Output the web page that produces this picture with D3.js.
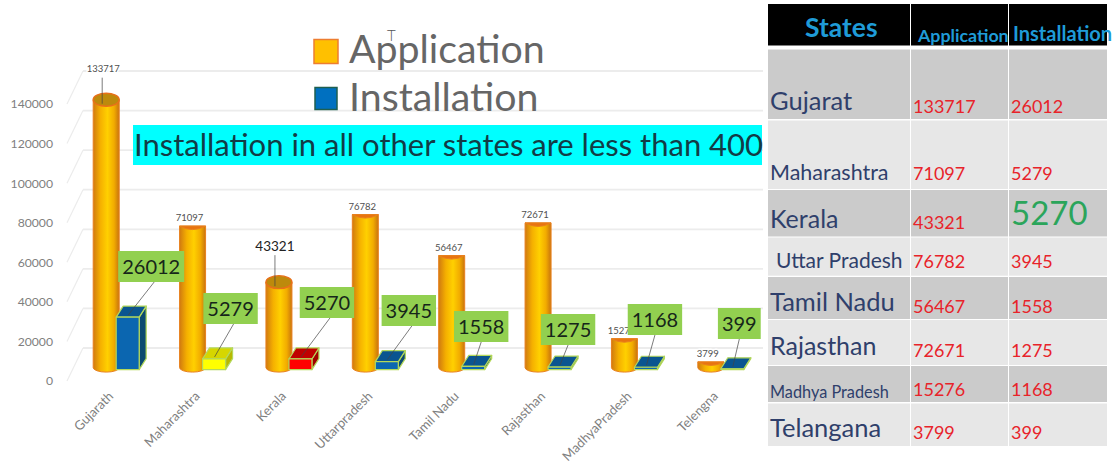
<!DOCTYPE html>
<html>

<head>
	<meta charset='utf-8'>
	<title>States chart</title>
	<script type='text/javascript' src='https://cdn.jsdelivr.net/npm/d3@7'></script>
	<style>
		html, body { margin: 0; padding: 0; background: #fff; }
		svg { display: block; font-family: Lato, 'Noto Sans', sans-serif; }
	</style>
</head>

<body>
	<svg width='1114' height='465'></svg>
	<script type='text/javascript'>

		// data
		const categories = ['Gujarath', 'Maharashtra', 'Kerala', 'Uttarpradesh', 'Tamil Nadu', 'Rajasthan', 'MadhyaPradesh', 'Telengna']
		const tableStates = ['Gujarat', 'Maharashtra', 'Kerala', 'Uttar Pradesh', 'Tamil Nadu', 'Rajasthan', 'Madhya Pradesh', 'Telangana']
		const application = [133717, 71097, 43321, 76782, 56467, 72671, 15276, 3799]
		const installation = [26012, 5279, 5270, 3945, 1558, 1275, 1168, 399]
		const yTicks = [0, 20000, 40000, 60000, 80000, 100000, 120000, 140000]
		const seriesNames = ['Application', 'Installation']
		const tableHeader = ['States', 'Application', 'Installation']
		const note = 'Installation in all other states are less than 400'

		// layout only: hand placed callouts, box colours, table rows
		const fullCaps = ['Gujarath', 'Kerala']
		const calloutDx = [45, 38, 48, 43.5, 29.5, 30, 30.5, 28.5]
		const calloutTop = [251, 293, 287, 295, 311, 314, 304, 308]
		const boxFill = ['#0b66b0', '#ffff00', '#ff0000', '#0b66b0', '#0b66b0', '#0b66b0', '#0b66b0', '#0b66b0']
		const boxTop = ['#0a5590', '#d6d600', '#c00000', '#0a5590', '#0a5590', '#0a5590', '#0a5590', '#0a5590']
		const boxSide = ['#0c4a70', '#b8b800', '#a00000', '#0c4a70', '#0c4a70', '#0c4a70', '#0c4a70', '#0c4a70']
		const rowTop = [49.5, 120.5, 190, 237.5, 277, 320, 366, 403.5]
		const rowBottom = [119, 189, 236.5, 275.7, 319, 365, 402, 446]
		const stateX = [770, 770, 770, 776, 770, 770, 770, 770]
		const stateBase = [110, 180, 228, 268, 311, 355, 398, 437]
		const stateSize = [25.5, 21.5, 25, 21, 25.5, 25, 16.3, 25.5]
		const appBase = [113, 180, 229, 268, 313, 357, 396, 439]
		const instBase = [113, 180, 225, 268, 313, 357, 396, 439]

		const svg = d3.select('svg')

		const defs = svg.append('defs')
		const grad = defs.append('linearGradient').attr('id', 'cyl')
		grad.append('stop').attr('offset', '0%').attr('stop-color', '#d07a10')
		grad.append('stop').attr('offset', '28%').attr('stop-color', '#f5b000')
		grad.append('stop').attr('offset', '55%').attr('stop-color', '#ffd000')
		grad.append('stop').attr('offset', '80%').attr('stop-color', '#f2ac00')
		grad.append('stop').attr('offset', '100%').attr('stop-color', '#c8740e')

		// band per state, centre of the cylinder is the centre of the band
		const xScale = d3.scaleBand().domain(categories).range([63, 754])
		const cx = c => xScale(c) + xScale.bandwidth() / 2

		// axis labels sit on the front edge, gridlines on the back wall, bars in between
		const yScale = d3.scaleLinear().domain([0, 140000]).range([381, 104])
		const barY = d3.scaleLinear().domain([0, 140000]).range([369.6, 87])
		const wallDx = 16
		const wallDy = -33

		// walls
		const wall = svg.append('g')
		wall.selectAll('line.grid').data(yTicks).enter().append('line')
			.attr('class', 'grid')
			.attr('x1', 67 + wallDx).attr('x2', 763)
			.attr('y1', d => yScale(d) + wallDy).attr('y2', d => yScale(d) + wallDy)
			.attr('stroke', '#ececec').attr('stroke-width', 1.8)
		wall.selectAll('line.slant').data(yTicks).enter().append('line')
			.attr('class', 'slant')
			.attr('x1', 67).attr('x2', 67 + wallDx)
			.attr('y1', d => yScale(d)).attr('y2', d => yScale(d) + wallDy)
			.attr('stroke', '#ececec').attr('stroke-width', 1.2)

		// axes
		const yAxis = d3.axisLeft(yScale).tickValues(yTicks).tickSize(0).tickPadding(0).tickFormat(d3.format('d'))
		const yG = svg.append('g').attr('transform', 'translate(53, 0)').call(yAxis)
		yG.select('.domain').remove()
		yG.selectAll('.tick text').attr('font-size', '12.2px').attr('font-family', 'Lato').attr('fill', '#7f7f7f')

		const xAxis = d3.axisBottom(xScale).tickSize(0).tickPadding(0)
		const xG = svg.append('g').attr('transform', 'translate(0, 392)').call(xAxis)
		xG.select('.domain').remove()
		xG.selectAll('.tick text')
			.attr('font-size', '13px').attr('font-family', 'Lato').attr('fill', '#7f7f7f')
			.attr('text-anchor', 'end').attr('dy', 0).attr('y', 0)
			.attr('transform', 'translate(8, 5) rotate(-45)')

		// cylinders
		const rx = 13
		const baseRy = 4.5
		const cyl = svg.append('g').selectAll('g').data(categories).enter().append('g')
		cyl.append('path')
			.attr('d', (c, i) => {
				const top = barY(application[i])
				const base = barY(0) - 2
				return `M${cx(c) - rx},${top}L${cx(c) - rx},${base}A${rx},${baseRy} 0 0 0 ${cx(c) + rx},${base}L${cx(c) + rx},${top}Z`
			})
			.attr('fill', 'url(#cyl)')
			.attr('stroke', '#e8801e').attr('stroke-width', 1)
		cyl.filter(c => fullCaps.includes(c)).append('ellipse')
			.attr('cx', c => cx(c))
			.attr('cy', c => barY(application[categories.indexOf(c)]))
			.attr('rx', rx).attr('ry', 6.5)
			.attr('fill', '#bd8a0c').attr('stroke', '#e8701a').attr('stroke-width', 1.4)
		cyl.filter(c => !fullCaps.includes(c)).append('path')
			.attr('d', c => {
				const top = barY(application[categories.indexOf(c)])
				return `M${cx(c) - rx},${top}Q${cx(c)},${top + 7} ${cx(c) + rx},${top}Z`
			})
			.attr('fill', '#e8740f').attr('stroke', '#e8801e').attr('stroke-width', 1)

		// boxes
		const boxW = 23
		const boxDx = 7
		const boxDy = -11
		const boxX = c => cx(c) + 10
		const box = svg.append('g').selectAll('g').data(categories).enter().append('g')
			.attr('stroke', '#b4d85a').attr('stroke-width', 1.2).attr('stroke-linejoin', 'round')
		box.append('path')
			.attr('d', (c, i) => {
				const y = barY(installation[i])
				const x = boxX(c) + boxW
				return `M${x},${y}L${x + boxDx},${y + boxDy}L${x + boxDx},${barY(0) + boxDy}L${x},${barY(0)}Z`
			})
			.attr('fill', (c, i) => boxSide[i])
		box.append('path')
			.attr('d', (c, i) => {
				const y = barY(installation[i])
				const x = boxX(c)
				return `M${x},${y}L${x + boxDx},${y + boxDy}L${x + boxW + boxDx},${y + boxDy}L${x + boxW},${y}Z`
			})
			.attr('fill', (c, i) => boxTop[i])
		box.append('rect')
			.attr('x', c => boxX(c))
			.attr('y', (c, i) => barY(installation[i]))
			.attr('width', boxW)
			.attr('height', (c, i) => barY(0) - barY(installation[i]))
			.attr('fill', (c, i) => boxFill[i])

		// application value labels
		svg.append('g').selectAll('text').data(categories).enter().append('text')
			.attr('x', c => cx(c) - (c === 'Kerala' ? 4 : 3))
			.attr('y', (c, i) => barY(application[i]) - (c === 'Kerala' ? 31 : c === 'Gujarath' ? 28 : 5))
			.attr('text-anchor', 'middle')
			.attr('font-size', c => c === 'Kerala' ? '13.5px' : '9.5px')
			.attr('fill', c => c === 'Kerala' ? '#222222' : '#505050')
			.attr('stroke', '#fff').attr('stroke-width', 3).attr('paint-order', 'stroke')
			.text((c, i) => application[i])
		svg.append('g').selectAll('line').data(fullCaps).enter().append('line')
			.attr('x1', c => cx(c) - 4).attr('x2', c => cx(c) - 4)
			.attr('y1', c => barY(application[categories.indexOf(c)]) - (c === 'Kerala' ? 27 : 22))
			.attr('y2', c => barY(application[categories.indexOf(c)]) + 4)
			.attr('stroke', '#444').attr('stroke-width', 0.7)

		// installation callouts
		const callout = svg.append('g').selectAll('g').data(categories).enter().append('g')
		callout.append('line')
			.attr('x1', (c, i) => cx(c) + calloutDx[i] + (i < 4 ? 3 : 0))
			.attr('y1', (c, i) => calloutTop[i] + 31)
			.attr('x2', c => boxX(c) + 12)
			.attr('y2', (c, i) => barY(installation[i]) - 2)
			.attr('stroke', '#444').attr('stroke-width', 0.7)
		const calloutText = callout.append('text')
			.attr('x', (c, i) => cx(c) + calloutDx[i])
			.attr('y', (c, i) => calloutTop[i] + 23)
			.attr('text-anchor', 'middle')
			.attr('font-size', '20px').attr('fill', '#16261a')
			.text((c, i) => installation[i])
		callout.insert('rect', 'text')
			.attr('width', (c, i) => calloutText.nodes()[i].getComputedTextLength() + 8)
			.attr('x', (c, i) => cx(c) + calloutDx[i] - (calloutText.nodes()[i].getComputedTextLength() + 8) / 2)
			.attr('y', (c, i) => calloutTop[i])
			.attr('height', 31)
			.attr('fill', '#92d050')

		// legend
		const legend = svg.append('g')
		legend.selectAll('rect').data(seriesNames).enter().append('rect')
			.attr('x', (d, i) => i ? 315 : 314)
			.attr('y', (d, i) => i ? 87.5 : 39.5)
			.attr('width', (d, i) => i ? 22 : 24)
			.attr('height', (d, i) => i ? 22 : 24)
			.attr('fill', (d, i) => i ? '#0070c0' : '#ffc000')
			.attr('stroke', (d, i) => i ? '#1f5f4f' : '#ed7d31')
			.attr('stroke-width', 1.5)
		legend.selectAll('text').data(seriesNames).enter().append('text')
			.attr('x', 349)
			.attr('y', (d, i) => i ? 111 : 63)
			.attr('font-size', '39.3px').attr('fill', '#666666')
			.text(d => d)
		// text cursor caught in the screenshot
		svg.append('text').attr('x', 387).attr('y', 41).attr('font-size', '15px').attr('font-weight', 300)
			.attr('fill', '#555').text('T')

		// note banner
		svg.append('rect').attr('x', 133).attr('y', 125).attr('width', 629).attr('height', 40).attr('fill', '#00ffff')
		svg.append('text').attr('x', 134).attr('y', 156).attr('font-size', '31px').attr('fill', '#123c46').text(note)

		// table
		const table = svg.append('g')
		const colX = [768, 911, 1009]
		const colW = [142, 97, 98]
		table.selectAll('rect.head').data(tableHeader).enter().append('rect')
			.attr('class', 'head')
			.attr('x', (d, i) => colX[i]).attr('y', 4)
			.attr('width', (d, i) => colW[i]).attr('height', 41.5)
			.attr('fill', '#000')
		colX.forEach((x, k) => {
			table.selectAll(null).data(tableStates).enter().append('rect')
				.attr('x', x).attr('y', (d, i) => rowTop[i])
				.attr('width', colW[k]).attr('height', (d, i) => rowBottom[i] - rowTop[i])
				.attr('fill', (d, i) => i % 2 ? '#e7e7e7' : '#cbcbcb')
		})
		table.selectAll('text.head').data(tableHeader).enter().append('text')
			.attr('class', 'head')
			.attr('x', (d, i) => [805, 918, 1013][i])
			.attr('y', (d, i) => [37, 42, 41][i])
			.attr('font-size', (d, i) => ['26.5px', '17.8px', '20px'][i])
			.attr('font-weight', 700)
			.attr('fill', '#1f9bd7')
			.text(d => d)
		table.selectAll('text.state').data(tableStates).enter().append('text')
			.attr('class', 'state')
			.attr('x', (d, i) => stateX[i]).attr('y', (d, i) => stateBase[i])
			.attr('font-size', (d, i) => stateSize[i] + 'px')
			.attr('fill', '#2f3f6b')
			.text(d => d)
		table.selectAll('text.app').data(application).enter().append('text')
			.attr('class', 'app')
			.attr('x', 913).attr('y', (d, i) => appBase[i])
			.attr('font-size', '18px').attr('fill', '#e8232a')
			.text(d => d)
		table.selectAll('text.inst').data(installation).enter().append('text')
			.attr('class', 'inst')
			.attr('x', 1011).attr('y', (d, i) => instBase[i])
			.attr('font-size', (d, i) => i === 2 ? '33px' : '18px')
			.attr('fill', (d, i) => i === 2 ? '#2ba55b' : '#e8232a')
			.text(d => d)

	</script>
</body>

</html>
